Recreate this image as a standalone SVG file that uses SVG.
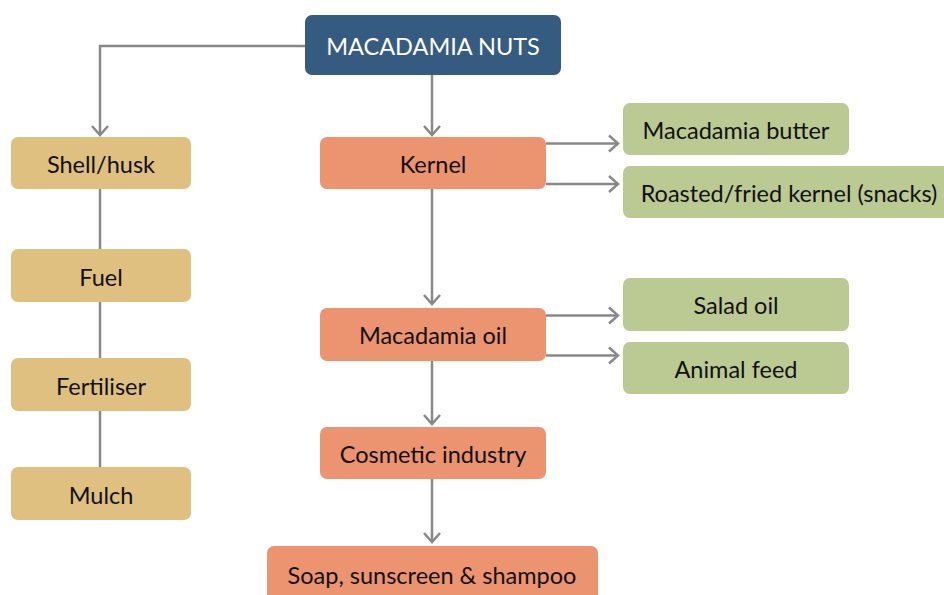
<svg xmlns="http://www.w3.org/2000/svg" width="944" height="595" viewBox="0 0 944 595">
<style>
.t{font-family:Lato,"Open Sans",sans-serif;font-size:23.5px;fill:#111;text-anchor:middle}
.c{fill:none;stroke:#898989;stroke-width:2.5}
.tan{fill:#e0c080}
.sal{fill:#ec9370}
.grn{fill:#bbc992}
</style>
<defs>
<marker id="a" viewBox="-12 -10 14 20" markerWidth="14" markerHeight="20" refX="0" refY="0" orient="auto" markerUnits="userSpaceOnUse">
<path d="M-9,-8 L0,0 L-9,8" fill="none" stroke="#898989" stroke-width="2.5"/>
</marker>
</defs>
<g id="connectors">
<path class="c" d="M305,46 H100 V135" marker-end="url(#a)"/>
<path class="c" d="M432,75 V135" marker-end="url(#a)"/>
<path class="c" d="M100,189 V467"/>
<path class="c" d="M432,189 V304" marker-end="url(#a)"/>
<path class="c" d="M432,361 V424" marker-end="url(#a)"/>
<path class="c" d="M432,479 V542" marker-end="url(#a)"/>
<path class="c" d="M546,143.5 H618" marker-end="url(#a)"/>
<path class="c" d="M546,184 H618" marker-end="url(#a)"/>
<path class="c" d="M546,315.5 H618" marker-end="url(#a)"/>
<path class="c" d="M546,355.5 H618" marker-end="url(#a)"/>
</g>
<g id="n-top"><rect x="305" y="15" width="256" height="60" rx="7" fill="#365b80"/><text class="t" x="433" y="55" style="fill:#fff">MACADAMIA NUTS</text></g>
<g id="n-shell"><rect class="tan" x="11" y="137" width="180" height="52" rx="7"/><text class="t" x="101" y="173">Shell/husk</text></g>
<g id="n-fuel"><rect class="tan" x="11" y="249" width="180" height="53" rx="7"/><text class="t" x="101" y="286">Fuel</text></g>
<g id="n-fert"><rect class="tan" x="11" y="358" width="180" height="53" rx="7"/><text class="t" x="101" y="395">Fertiliser</text></g>
<g id="n-mulch"><rect class="tan" x="11" y="467" width="180" height="53" rx="7"/><text class="t" x="101" y="504">Mulch</text></g>
<g id="n-kernel"><rect class="sal" x="320" y="137" width="226" height="52" rx="7"/><text class="t" x="433" y="173">Kernel</text></g>
<g id="n-oil"><rect class="sal" x="320" y="308" width="226" height="53" rx="7"/><text class="t" x="433" y="344">Macadamia oil</text></g>
<g id="n-cos"><rect class="sal" x="320" y="427" width="226" height="52" rx="7"/><text class="t" x="433" y="463">Cosmetic industry</text></g>
<g id="n-soap"><rect class="sal" x="267" y="546" width="331" height="60" rx="7"/><text class="t" x="432" y="584">Soap, sunscreen &amp; shampoo</text></g>
<g id="n-butter"><rect class="grn" x="623" y="103" width="226" height="52" rx="7"/><text class="t" x="736" y="139">Macadamia butter</text></g>
<g id="n-roast"><rect class="grn" x="623" y="166" width="330" height="52" rx="7"/><text class="t" x="789" y="202">Roasted/fried kernel (snacks)</text></g>
<g id="n-salad"><rect class="grn" x="623" y="278" width="226" height="53" rx="7"/><text class="t" x="736" y="314">Salad oil</text></g>
<g id="n-feed"><rect class="grn" x="623" y="342" width="226" height="52" rx="7"/><text class="t" x="736" y="378">Animal feed</text></g>
</svg>
